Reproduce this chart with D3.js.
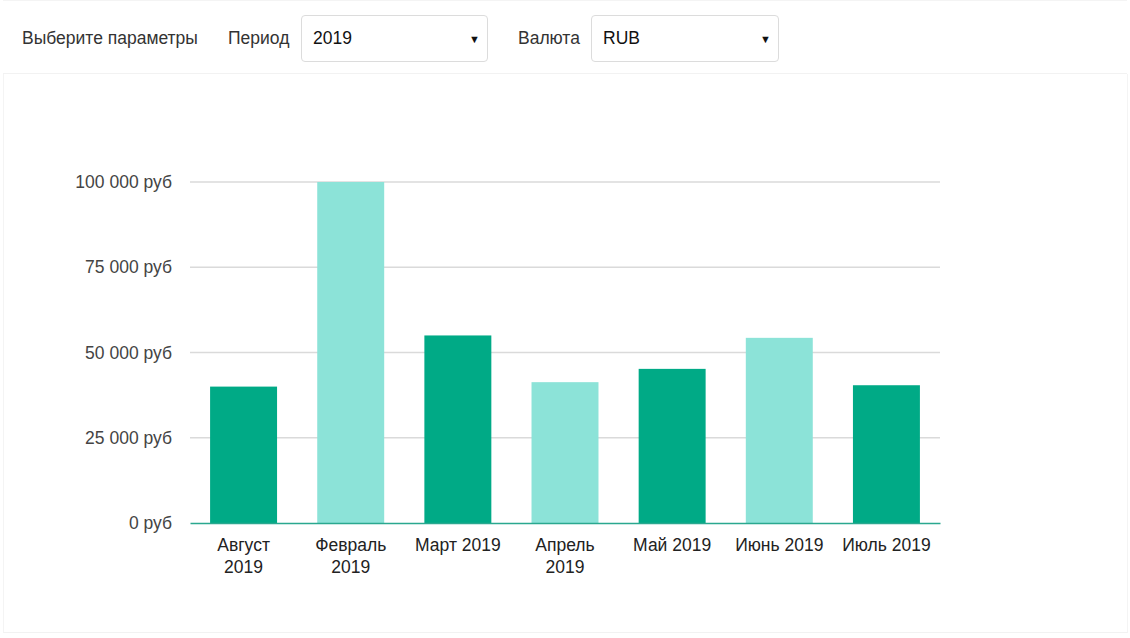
<!DOCTYPE html>
<html>
<head>
<meta charset="utf-8">
<script src="https://cdn.jsdelivr.net/npm/d3@7"></script>
<style>
  html, body { margin: 0; padding: 0; background: #fff; }
  body { width: 1130px; height: 638px; position: relative; overflow: hidden;
         font-family: "Liberation Sans", Arial, sans-serif; }
  #header { position: absolute; left: 3px; top: 0; width: 1124px; height: 74px;
            border-top: 1px solid #f4f4f4; border-bottom: 1px solid #f2f2f2; box-sizing: border-box; }
  .lbl { position: absolute; top: 27px; font-size: 17.5px; color: #333; line-height: 20px; }
  .sel { position: absolute; top: 14px; height: 47px; border: 1px solid #dcdcdc; border-radius: 4px;
         box-sizing: border-box; background: #fff; }
  .sel .v { position: absolute; left: 11px; top: 12px; font-size: 17.5px; color: #111; line-height: 20px; }
  .sel .a { position: absolute; right: 7px; top: 14px; font-size: 11px; color: #111; line-height: 18px; }
  #card { position: absolute; left: 3px; top: 74px; width: 1125px; height: 559px;
          border-left: 1px solid #f4f4f4; border-right: 1px solid #f4f4f4; border-bottom: 1px solid #f2f2f2;
          box-sizing: border-box; }
  svg { position: absolute; left: 0; top: 0; }
</style>
</head>
<body>
<div id="header">
  <div class="lbl" style="left:19px">Выберите параметры</div>
  <div class="lbl" style="left:225px">Период</div>
  <div class="sel" style="left:298px;width:187px"><span class="v">2019</span><span class="a">▼</span></div>
  <div class="lbl" style="left:515px">Валюта</div>
  <div class="sel" style="left:588px;width:188px"><span class="v">RUB</span><span class="a">▼</span></div>
</div>
<div id="card"></div>
<svg id="chart" width="1130" height="638"></svg>
<script>
const categories = [["Август", "2019"], ["Февраль", "2019"], ["Март 2019"], ["Апрель", "2019"], ["Май 2019"], ["Июнь 2019"], ["Июль 2019"]];
const values = [40000, 100000, 55000, 41300, 45200, 54300, 40400];
const barColors = ["#00aa86", "#8ce3d8", "#00aa86", "#8ce3d8", "#00aa86", "#8ce3d8", "#00aa86"];
const yTicks = [0, 25000, 50000, 75000, 100000];

const svg = d3.select("#chart");
const mLeft = 190, mRight = 940, mTop = 182, mBottom = 523;

const keys = categories.map(c => c.join(" "));
const x = d3.scaleBand().domain(keys).range([mLeft, mRight]).paddingInner(0.375).paddingOuter(0.1875);
const y = d3.scaleLinear().domain([0, 100000]).range([mBottom, mTop]);

const fmt = v => d3.format(",")(v).replace(/,/g, " ") + " руб";

// gridlines
svg.append("g").selectAll("line").data(yTicks.filter(t => t > 0)).join("line")
  .attr("x1", mLeft).attr("x2", mRight)
  .attr("y1", d => y(d)).attr("y2", d => y(d))
  .attr("stroke", "#dadada").attr("stroke-width", 1.3);

// y-axis labels
const yAxis = d3.axisLeft(y).tickValues(yTicks).tickFormat(fmt).tickSize(0).tickPadding(18);
const gy = svg.append("g").attr("transform", `translate(${mLeft},0)`).call(yAxis);
gy.select(".domain").remove();
gy.selectAll("text").attr("font-family", "Liberation Sans, Arial, sans-serif")
  .attr("font-size", 17.5).attr("fill", "#444");

// bars
svg.append("g").selectAll("rect").data(values).join("rect")
  .attr("x", (d, i) => x(keys[i]))
  .attr("width", x.bandwidth())
  .attr("y", d => y(d))
  .attr("height", d => y(0) - y(d))
  .attr("fill", (d, i) => barColors[i]);

// x axis
const xAxis = d3.axisBottom(x).tickSize(0).tickFormat("");
const gx = svg.append("g").attr("transform", `translate(0,${mBottom})`).call(xAxis);
gx.select(".domain").attr("stroke", "#2aa88f").attr("stroke-width", 1.5);

gx.selectAll(".tick").each(function(d, i) {
  const t = d3.select(this).append("text")
    .attr("text-anchor", "middle").attr("fill", "#222")
    .attr("font-family", "Liberation Sans, Arial, sans-serif").attr("font-size", 17.5);
  categories[i].forEach((line, j) => {
    t.append("tspan").attr("x", 0).attr("y", 28 + j * 22).text(line);
  });
});
</script>
</body>
</html>
